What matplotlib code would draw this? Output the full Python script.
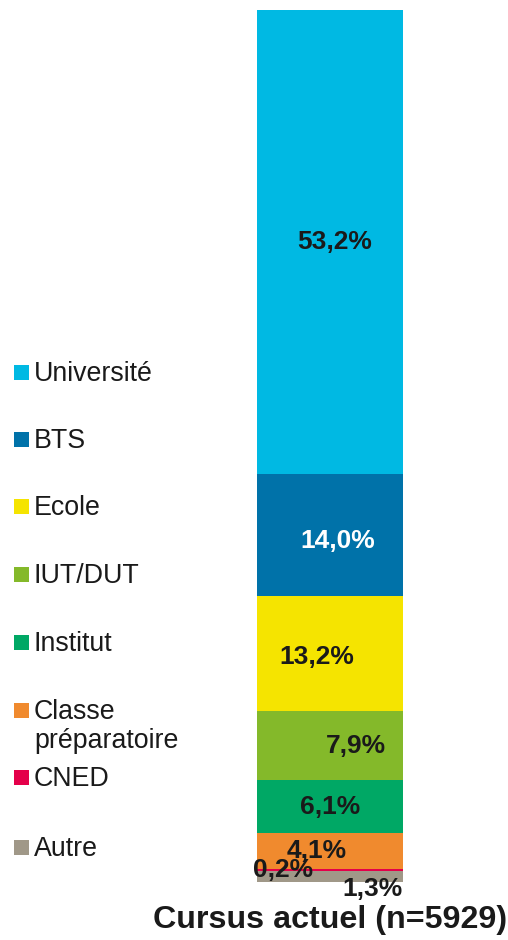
import matplotlib
matplotlib.use("Agg")
import matplotlib.pyplot as plt
from matplotlib.patches import Rectangle

plt.rcParams['font.family'] = ['Liberation Sans', 'DejaVu Sans']

# Data (bottom to top of stack)
categories = ["Autre", "CNED", "Classe\npréparatoire", "Institut", "IUT/DUT", "Ecole", "BTS", "Université"]
values = [1.3, 0.2, 4.1, 6.1, 7.9, 13.2, 14.0, 53.2]
labels = ["1,3%", "0,2%", "4,1%", "6,1%", "7,9%", "13,2%", "14,0%", "53,2%"]
colors = ["#A09888", "#E4004A", "#F08A2E", "#00A865", "#84B92A", "#F5E400", "#0072A9", "#00B9E3"]
label_colors = ["#1a1a1a", "#1a1a1a", "#1a1a1a", "#1a1a1a", "#1a1a1a", "#1a1a1a", "white", "#1a1a1a"]
# label offsets (x in bar-width units, y in % units) relative to segment centre
label_dx = [0.29, -0.32, -0.09, 0.0, 0.18, -0.09, 0.05, 0.03]
label_dy = [-1.4, 0.0, 0.0, 0.0, 0.0, -0.45, -0.65, 0.0]
title = "Cursus actuel (n=5929)"

W, H = 508, 940
fig = plt.figure(figsize=(W / 100, H / 100), dpi=100)
ax = fig.add_axes([257 / W, (H - 882) / H, 146 / W, 872 / H])
ax.set_xlim(-0.5, 0.5)
ax.set_ylim(0, sum(values))
ax.axis('off')

bottom = 0
for v, c, lab, lc, dx, dy in zip(values, colors, labels, label_colors, label_dx, label_dy):
    ax.bar(0, v, width=1.0, bottom=bottom, color=c, edgecolor='none')
    ax.text(dx, bottom + v / 2 + dy, lab, ha='center', va='center', fontsize=19,
            fontweight='bold', color=lc, clip_on=False)
    bottom += v

# Legend (top to bottom)
leg_y = [372, 439, 506, 574, 642, 710, 777, 847]
leg_cats = categories[::-1]
leg_cols = colors[::-1]
for name, col, y in zip(leg_cats, leg_cols, leg_y):
    s = 15
    fig.patches.append(Rectangle((14 / W, (H - y - s / 2) / H), s / W, s / H,
                                 transform=fig.transFigure, facecolor=col, edgecolor='none'))
    fig.text(34 / W, (H - y + 11) / H, name, ha='left', va='top', fontsize=19.3,
             color='#1a1a1a', linespacing=1.15)

fig.text(330 / W, (H - 920) / H, title, ha='center', va='center', fontsize=23.2,
         fontweight='bold', color='#1a1a1a')

fig.savefig("out.png", dpi=100)
